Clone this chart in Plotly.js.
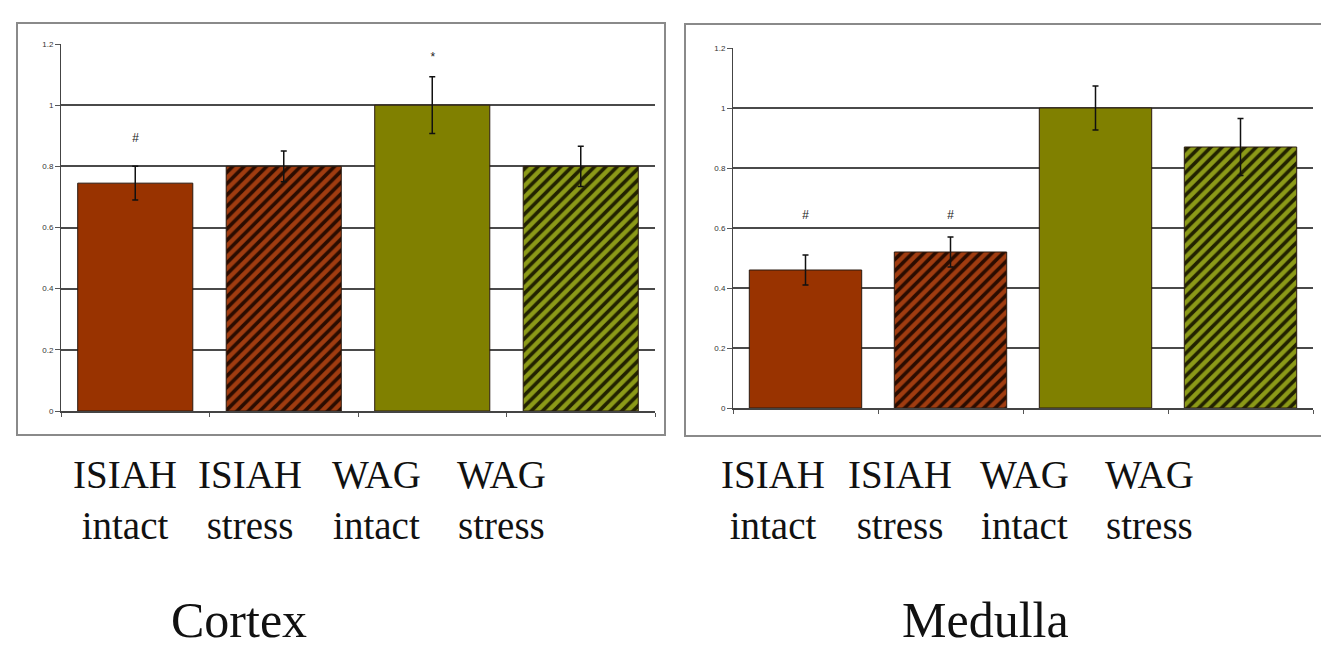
<!DOCTYPE html>
<html><head><meta charset="utf-8">
<script src="https://cdn.plot.ly/plotly-3.0.1.min.js"></script>
<style>html,body{margin:0;padding:0;background:#fff;} #chart{width:1321px;height:647px;}</style>
</head><body><div id="chart"></div>
<script>
// ---- data ----
const categories = ['ISIAH intact', 'ISIAH stress', 'WAG intact', 'WAG stress'];
const labelLines = [['ISIAH', 'intact'], ['ISIAH', 'stress'], ['WAG', 'intact'], ['WAG', 'stress']];
const cortexValues = [0.745, 0.80, 1.00, 0.80];
const cortexErrors = [0.055, 0.05, 0.093, 0.066];
const cortexMarks = ['#', '', '*', ''];
const cortexMarkY = [0.893, null, 1.158, null];
const medullaValues = [0.46, 0.52, 1.00, 0.87];
const medullaErrors = [0.05, 0.05, 0.073, 0.095];
const medullaMarks = ['#', '#', '', ''];
const medullaMarkY = [0.643, 0.643, null, null];
const panelTitles = ['Cortex', 'Medulla'];
const yTickValues = [0, 0.2, 0.4, 0.6, 0.8, 1.0, 1.2];

// ---- styles ----
const W = 1321, H = 647;
const fx = p => p / W;
const fy = p => 1 - p / H;
const barColors = ['#993300', '#a03c10', '#808000', '#8c9a18'];
const patternShapes = ['', '/', '', '/'];
const patternFg = ['#2a0c00', '#2a0c00', '#222200', '#222200'];

const data = [];
function addBars(vals, errs, xa, ya) {
  categories.forEach((c, i) => {
    const marker = {color: barColors[i], line: {color: '#2a1a10', width: 1}};
    if (patternShapes[i]) {
      marker.pattern = {shape: patternShapes[i], bgcolor: barColors[i], fgcolor: patternFg[i],
                        fgopacity: 1, size: 8, solidity: 0.45, fillmode: 'replace'};
    }
    data.push({
      type: 'bar', x: [c], y: [vals[i]], xaxis: xa, yaxis: ya, marker: marker,
      error_y: {type: 'data', array: [errs[i]], visible: true, color: '#111', thickness: 1.5, width: 3},
      hoverinfo: 'x+y', showlegend: false
    });
  });
}
addBars(cortexValues, cortexErrors, 'x', 'y');
addBars(medullaValues, medullaErrors, 'x2', 'y2');

const yCommon = {
  range: [0, 1.2], tickvals: yTickValues, ticks: 'outside', ticklen: 5, tickcolor: '#555',
  showgrid: true, gridcolor: '#4a4a4a', gridwidth: 2, zeroline: false,
  showline: true, linecolor: '#444', linewidth: 1,
  tickfont: {family: 'Liberation Sans, Arial', size: 8, color: '#333'}, fixedrange: true
};
const xCommon = {
  type: 'category', categoryorder: 'array', categoryarray: categories,
  showticklabels: false, ticks: 'outside', tickson: 'boundaries', ticklen: 4,
  tickcolor: '#555', showline: true, linecolor: '#444', linewidth: 1.5, showgrid: false, fixedrange: true
};

const annotations = [];
const labelCenters = [[125, 250, 376, 501], [773, 900, 1024, 1149]];
const titleCenters = [239, 985];
for (let p = 0; p < 2; p++) {
  labelLines.forEach((ln, i) => {
    annotations.push({
      xref: 'paper', yref: 'paper', x: fx(labelCenters[p][i]), y: fy(500),
      xanchor: 'center', yanchor: 'middle', showarrow: false, align: 'center',
      text: ln.join('<br>'),
      font: {family: 'Liberation Serif, Times New Roman', size: 39, color: '#111'}
    });
  });
  annotations.push({
    xref: 'paper', yref: 'paper', x: fx(titleCenters[p]), y: fy(620),
    xanchor: 'center', yanchor: 'middle', showarrow: false,
    text: panelTitles[p],
    font: {family: 'Liberation Serif, Times New Roman', size: 50, color: '#111'}
  });
}
function addMarks(marks, ys, xa, ya) {
  marks.forEach((m, i) => {
    if (!m) return;
    annotations.push({
      xref: xa, yref: ya, x: categories[i], y: ys[i], showarrow: false,
      text: '<i>' + m + '</i>', xanchor: 'center', yanchor: 'middle',
      font: {family: 'Liberation Sans, Arial', size: 12, color: '#222'}
    });
  });
}
addMarks(cortexMarks, cortexMarkY, 'x', 'y');
addMarks(medullaMarks, medullaMarkY, 'x2', 'y2');

const layout = {
  width: W, height: H, margin: {l: 0, r: 0, t: 0, b: 0},
  paper_bgcolor: '#fff', plot_bgcolor: 'rgba(0,0,0,0)',
  barmode: 'overlay', bargap: 0.225, showlegend: false,
  xaxis: Object.assign({}, xCommon, {domain: [fx(61), fx(655)], anchor: 'y'}),
  yaxis: Object.assign({}, yCommon, {domain: [fy(411), fy(44)], anchor: 'x'}),
  xaxis2: Object.assign({}, xCommon, {domain: [fx(733), fx(1313)], anchor: 'y2'}),
  yaxis2: Object.assign({}, yCommon, {domain: [fy(408), fy(48)], anchor: 'x2'}),
  annotations: annotations,
  shapes: [
    {type: 'rect', xref: 'paper', yref: 'paper', x0: fx(17), x1: fx(665), y0: fy(435), y1: fy(23), line: {color: '#8a8a8a', width: 2}, layer: 'below'},
    {type: 'rect', xref: 'paper', yref: 'paper', x0: fx(685), x1: fx(1325), y0: fy(436), y1: fy(24), line: {color: '#8a8a8a', width: 2}, layer: 'below'}
  ]
};

Plotly.newPlot('chart', data, layout, {displayModeBar: false});
</script>
</body></html>
